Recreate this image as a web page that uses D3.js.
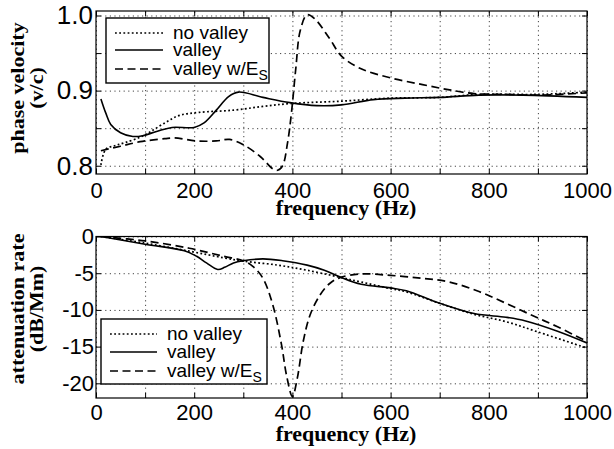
<!DOCTYPE html>
<html lang="en">
  <head>
    <meta charset="utf-8">
    <title>phase velocity and attenuation</title>
    <script type="text/javascript" src="https://d3js.org/d3.v7.min.js"></script>
    <style>
      body { margin: 0; background: #fff; }
      svg { display: block; background: #fff; }
      .tick text { font-family: 'Liberation Sans', Arial, sans-serif; fill: #000; }
      .axlabel { font-family: 'Liberation Serif', 'Times New Roman', serif; font-weight: bold; font-size: 22px; fill: #000; }
      .legend text { font-family: 'Liberation Sans', Arial, sans-serif; font-size: 19px; fill: #000; }
      .grid line { stroke: #444; stroke-width: 1; stroke-dasharray: 1.2,3.4; }
      .grid path, .ax path { display: none; }
      .ax line { stroke: #000; stroke-width: 1; }
    </style>
  </head>
  <body>

    <svg id="chart"></svg>

    <script type="text/javascript">

    // DATA

    const freqTicks = d3.range(0, 1001, 100);       // grid / tick every 100 Hz, label every 200
    const velTicks = [0.8, 0.85, 0.9, 0.95, 1.0];
    const attTicks = [0, -5, -10, -15, -20];

    const seriesNames = ['no valley', 'valley', 'valley w/E'];

    // phase velocity (v/c) vs frequency
    const velNoValley = [[10,0.801],[20,0.822],[40,0.827],[60,0.831],[90,0.838],[110,0.845],[140,0.857],
      [170,0.867],[210,0.871],[280,0.874],[340,0.879],[400,0.883],[500,0.886],[600,0.890],[700,0.891],
      [780,0.895],[900,0.895],[1000,0.898]];
    const velValley = [[10,0.889],[20,0.870],[30,0.855],[50,0.844],[75,0.839],[95,0.840],[125,0.846],
      [155,0.851],[200,0.851],[220,0.857],[245,0.874],[270,0.892],[290,0.898],[340,0.891],[395,0.884],
      [450,0.880],[500,0.881],[565,0.888],[630,0.890],[700,0.891],[780,0.894],[870,0.894],[1000,0.891]];
    const velValleyEs = [[10,0.820],[50,0.826],[90,0.832],[140,0.836],[160,0.837],[205,0.833],[245,0.833],
      [272,0.835],[300,0.828],[335,0.812],[360,0.796],[370,0.794],[380,0.800],[390,0.830],[398,0.870],
      [407,0.930],[416,0.980],[430,1.001],[445,0.996],[475,0.970],[500,0.946],[540,0.929],[600,0.917],
      [665,0.908],[720,0.901],[770,0.896],[835,0.895],[900,0.894],[1000,0.897]];

    // attenuation rate (dB/Mm) vs frequency
    const attNoValley = [[10,0],[100,-0.9],[190,-2.0],[260,-2.9],[300,-3.35],[370,-3.9],[430,-4.6],
      [500,-5.6],[540,-6.2],[600,-7.1],[630,-7.5],[700,-9.1],[770,-10.6],[835,-11.6],[900,-13.0],[1000,-15.2]];
    const attValley = [[10,0],[100,-1.05],[180,-1.95],[205,-2.7],[225,-3.6],[248,-4.5],[262,-4.2],
      [280,-3.6],[300,-3.3],[340,-3.05],[380,-3.3],[430,-3.9],[465,-4.6],[500,-5.6],[540,-6.5],[600,-7.0],
      [632,-7.4],[700,-9.1],[770,-10.5],[835,-11.0],[875,-11.5],[940,-12.9],[1000,-14.5]];
    const attValleyEs = [[10,0],[100,-0.6],[190,-1.6],[260,-2.7],[300,-3.3],[320,-4.1],[340,-5.7],
      [360,-9.3],[378,-14.8],[388,-18.9],[400,-21.8],[410,-19.3],[422,-14.3],[436,-10.7],[456,-8.0],
      [476,-6.4],[497,-5.6],[540,-5.1],[600,-5.3],[665,-5.7],[720,-6.2],[780,-7.5],[835,-9.1],[890,-10.8],
      [940,-12.3],[1000,-14.3]];


    // DIMENSIONS

    const width = 614, height = 449;

    const svg = d3.select('#chart')
      .attr('width', width)
      .attr('height', height);

    // line styles per series: dotted, solid, dashed
    const dash = ['1.8,2.4', null, '8,4.5'];
    const strokeW = [1.7, 1.6, 1.7];


    // PANEL

    function drawPanel(p) {

      const x = d3.scaleLinear().domain([0, 1000]).range([96, 587]);
      const y = d3.scaleLinear().domain(p.yDomain).range(p.yRange);
      const top = p.yRange[1], bottom = p.yRange[0];
      const g = svg.append('g');

      // grid
      g.append('g').attr('class', 'grid')
        .attr('transform', `translate(0,${bottom})`)
        .call(d3.axisBottom(x).tickValues(freqTicks).tickSize(-(bottom - top)).tickFormat(''));
      g.append('g').attr('class', 'grid')
        .attr('transform', `translate(${x.range()[0]},0)`)
        .call(d3.axisLeft(y).tickValues(p.yTicks).tickSize(-(x.range()[1] - x.range()[0])).tickFormat(''));

      // curves
      const clipId = 'clip' + p.id;
      g.append('clipPath').attr('id', clipId)
        .append('rect')
        .attr('x', x.range()[0]).attr('y', top)
        .attr('width', x.range()[1] - x.range()[0]).attr('height', bottom - top);

      const line = d3.line()
        .x(d => x(d[0]))
        .y(d => y(d[1]))
        .curve(d3.curveCatmullRom.alpha(0.5));

      g.append('g').attr('clip-path', `url(#${clipId})`)
        .selectAll('path')
        .data(p.series)
        .join('path')
        .attr('d', d => line(d))
        .attr('fill', 'none')
        .attr('stroke', '#000')
        .attr('stroke-width', (d, i) => strokeW[i])
        .attr('stroke-dasharray', (d, i) => dash[i]);

      // ticks inward on all four sides
      g.append('g').attr('class', 'ax')
        .attr('transform', `translate(0,${bottom})`)
        .call(d3.axisBottom(x).tickValues(freqTicks).tickSize(-5).tickPadding(p.xPad)
          .tickFormat(d => d % 200 === 0 ? d : ''))
        .selectAll('text').style('font-size', '22px');
      g.append('g').attr('class', 'ax')
        .attr('transform', `translate(0,${top})`)
        .call(d3.axisTop(x).tickValues(freqTicks).tickSize(-5).tickFormat(''));
      g.append('g').attr('class', 'ax')
        .attr('transform', `translate(${x.range()[0]},0)`)
        .call(d3.axisLeft(y).tickValues(p.yTicks).tickSize(-5).tickPadding(p.yPad).tickFormat(p.yFormat))
        .selectAll('text').style('font-size', p.yFont);
      g.append('g').attr('class', 'ax')
        .attr('transform', `translate(${x.range()[1]},0)`)
        .call(d3.axisRight(y).tickValues(p.yTicks).tickSize(-5).tickFormat(''));

      // frame
      g.append('rect')
        .attr('x', x.range()[0]).attr('y', top)
        .attr('width', x.range()[1] - x.range()[0]).attr('height', bottom - top)
        .attr('fill', 'none').attr('stroke', '#000').attr('stroke-width', 1.2);

      // x label
      g.append('text').attr('class', 'axlabel')
        .attr('x', 346).attr('y', p.xLabelY)
        .attr('text-anchor', 'middle')
        .text('frequency (Hz)');

      // y label, two lines, rotated
      p.yLabel.forEach((t, i) => {
        g.append('text').attr('class', 'axlabel')
          .attr('text-anchor', 'middle')
          .attr('transform', `translate(${[24, 43][i]},${p.yLabelMid}) rotate(-90) scale(1,0.85)`)
          .text(t);
      });

      // legend
      const lg = g.append('g').attr('class', 'legend');
      lg.append('rect')
        .attr('x', p.legend.x).attr('y', p.legend.y)
        .attr('width', p.legend.w).attr('height', p.legend.h)
        .attr('fill', '#fff').attr('stroke', '#000').attr('stroke-width', 1.4);

      seriesNames.forEach((name, i) => {
        const ly = p.legend.y + p.legend.rows[i];
        lg.append('line')
          .attr('x1', p.legend.x + p.legend.l1).attr('x2', p.legend.x + p.legend.l2)
          .attr('y1', ly).attr('y2', ly)
          .attr('stroke', '#000')
          .attr('stroke-width', strokeW[i])
          .attr('stroke-dasharray', dash[i]);
        const txt = lg.append('text')
          .attr('x', p.legend.x + p.legend.tx)
          .attr('y', ly + 6)
          .text(name);
        if (i === 2) {
          txt.append('tspan').attr('dy', 5).style('font-size', '14px').text('S');
        }
      });
    }

    drawPanel({
      id: 'top',
      series: [velNoValley, velValley, velValleyEs],
      yDomain: [0.789, 1.006], yRange: [174, 11],
      yTicks: velTicks,
      yFormat: d => (Math.round(d * 100) % 10 === 0 ? d3.format('.1f')(d) : ''),
      yFont: '26px', yPad: 3, xPad: 8,
      xLabelY: 215,
      yLabel: ['phase velocity', '(v/c)'], yLabelMid: 88,
      legend: { x: 106, y: 18, w: 163, h: 65, rows: [15, 32, 51], l1: 9, l2: 57, tx: 67 }
    });

    drawPanel({
      id: 'bottom',
      series: [attNoValley, attValley, attValleyEs],
      yDomain: [-22, 0], yRange: [398, 236.5],
      yTicks: attTicks,
      yFormat: d => d,
      yFont: '22px', yPad: 2, xPad: 6,
      xLabelY: 441,
      yLabel: ['attenuation rate', '(dB/Mm)'], yLabelMid: 309,
      legend: { x: 101, y: 319, w: 166, h: 65, rows: [15, 33, 52], l1: 9, l2: 56, tx: 66 }
    });

    </script>
  </body>
</html>
